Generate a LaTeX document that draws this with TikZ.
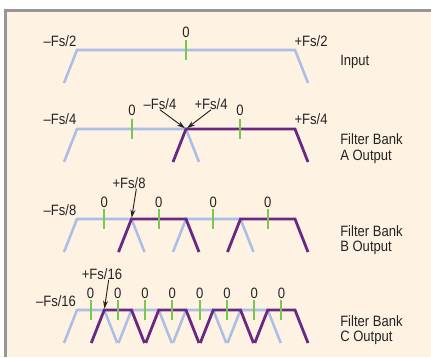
\documentclass[tikz,border=0pt]{standalone}
\usepackage{fontspec}
\setmainfont{Liberation Sans}[FakeStretch=0.87]
\usetikzlibrary{arrows.meta}

\definecolor{paper}{RGB}{254,242,226}
\definecolor{framegray}{RGB}{150,150,150}
\definecolor{inband}{RGB}{170,190,230}
\definecolor{outband}{RGB}{105,40,130}
\definecolor{zerogreen}{RGB}{120,200,80}
\definecolor{ink}{RGB}{35,35,35}

% one pass band: style, left edge, right edge, top
\newcommand{\band}[4]{\draw[#1] ({#2-13},{#4+33}) -- ({#2},{#4}) -- ({#3},{#4}) -- ({#3+13},{#4+33});}

\begin{document}
\begin{tikzpicture}[
    x=0.75pt, y=-0.75pt,
    lbl/.style={font=\fontsize{11.25}{11.5}\selectfont, text=ink, inner sep=0pt},
    rowlbl/.style={lbl, anchor=west, align=left},
    blueband/.style={inband, line width=1.9pt},
    purpleband/.style={outband, line width=2.1pt},
    zeromark/.style={zerogreen, line width=1.4pt},
    pointer/.style={-{Stealth[length=6pt,width=3.8pt]}, ink, line width=0.7pt, shorten >=1pt}
]
\useasboundingbox (0,0) rectangle (431,357);

% Frame
\fill[paper] (5.5,10.5) rectangle (431,357);
\draw[framegray, line width=2.25pt] (5.5,357) -- (5.5,10.5) -- (431,10.5);

% Input
\band{blueband}{77}{295}{50}
\draw[zeromark] (186,40) -- (186,60);
\node[lbl] (zIn) at (186,32) {0};
\node[lbl] (loIn) at (60,41) {\textendash Fs/2};
\node[lbl] (hiIn) at (311,41) {+Fs/2};
\node[rowlbl] (rowIn) at (340,62) {Input};

% Filter Bank A
\band{blueband}{77}{186}{129}
\band{purpleband}{186}{295}{129}
\draw[zeromark] (132,119) -- (132,139);
\draw[zeromark] (240,119) -- (240,139);
\node[lbl] (zA1) at (132,110) {0};
\node[lbl] (zA2) at (240,110) {0};
\coordinate (jA) at (186,129);
\node[lbl] (loA) at (60,119) {\textendash Fs/4};
\node[lbl] (hiA) at (311,119) {+Fs/4};
\node[lbl] (mloA) at (160,104) {\textendash Fs/4};
\node[lbl] (mhiA) at (211,104) {+Fs/4};
\draw[pointer] (mloA.south) -- (jA);
\draw[pointer] (mhiA.south) -- (jA);
\node[rowlbl] (rowA) at (340,148.5) {Filter Bank\\A Output};

% Filter Bank B
\band{blueband}{77}{131.5}{219}
\band{blueband}{186}{240.5}{219}
\band{purpleband}{131.5}{186}{219}
\band{purpleband}{240.5}{295}{219}
\foreach \k in {0,...,3} {
    \draw[zeromark] ({77+54.5*(\k+0.5)},209) -- ({77+54.5*(\k+0.5)},229);
    \node[lbl] (zB\k) at ({77+54.5*(\k+0.5)},202) {0};
}
\coordinate (jB) at (131.5,219);
\node[lbl] (loB) at (60,210) {\textendash Fs/8};
\node[lbl] (mhiB) at (129,183) {+Fs/8};
\draw[pointer] ([xshift=5.5pt]mhiB.south) -- (jB);
\node[rowlbl] (rowB) at (340,240) {Filter Bank\\B Output};

% Filter Bank C
\foreach \k in {0,2,4,6} {
    \band{blueband}{77+27.25*\k}{77+27.25*(\k+1)}{310}
}
\foreach \k in {1,3,5,7} {
    \band{purpleband}{77+27.25*\k}{77+27.25*(\k+1)}{310}
}
\foreach \k in {0,...,7} {
    \draw[zeromark] ({77+27.25*(\k+0.5)},300) -- ({77+27.25*(\k+0.5)},320);
    \node[lbl] (zC\k) at ({77+27.25*(\k+0.5)},293) {0};
}
\coordinate (jC) at (104.25,310);
\node[lbl] (loC) at (56,301) {\textendash Fs/16};
\node[lbl] (mhiC) at (102,274) {+Fs/16};
\draw[pointer] ([xshift=5pt]mhiC.south) -- (jC);
\node[rowlbl] (rowC) at (340,330) {Filter Bank\\C Output};

\end{tikzpicture}
\end{document}
